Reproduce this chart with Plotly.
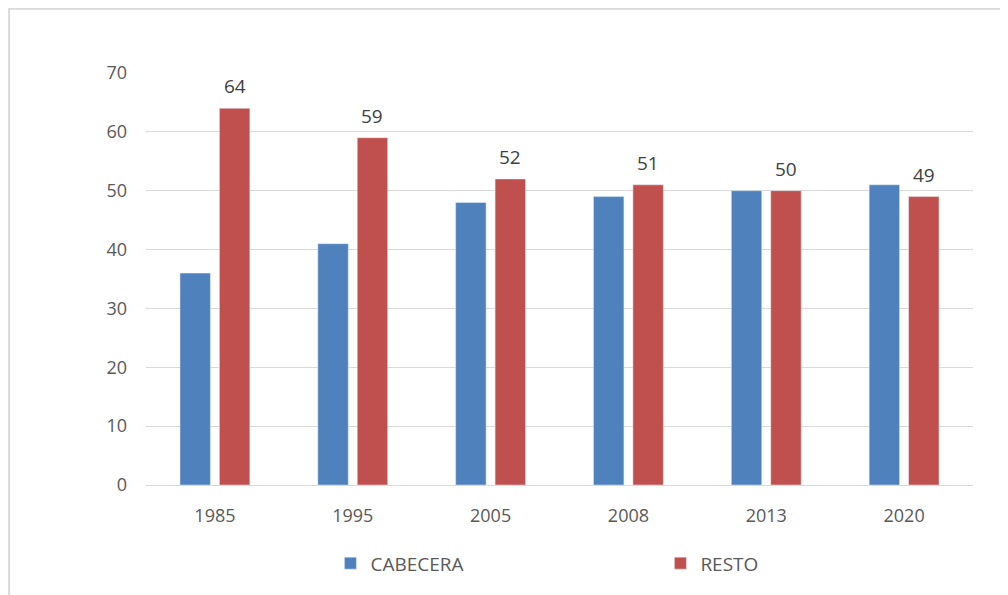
import plotly.graph_objects as go

years = ["1985", "1995", "2005", "2008", "2013", "2020"]
cabecera = [36, 41, 48, 49, 50, 51]
resto = [64, 59, 52, 51, 50, 49]
y_ticks = [0, 10, 20, 30, 40, 50, 60, 70]

BLUE = "#4f81bd"
RED = "#c0504d"
FONT = "Open Sans, Liberation Sans, sans-serif"
LEG_FONT = dict(family=FONT, size=19, color="#595959")

fig = go.Figure()
fig.add_trace(go.Bar(name="CABECERA", x=years, y=cabecera, marker_color=BLUE,
                     legend="legend"))
fig.add_trace(go.Bar(name="RESTO", x=years, y=resto, marker_color=RED,
                     legend="legend2"))

for i, v in enumerate(resto):
    fig.add_annotation(x=i + 0.143, y=v, xref="x", yref="y", text=str(v),
                       showarrow=False, yanchor="bottom", yshift=7,
                       font=dict(family=FONT, size=19, color="#404040"))

fig.add_shape(type="rect", xref="paper", yref="paper",
              x0=-0.1655, x1=1.08, y0=-0.35, y1=1.156,
              line=dict(color="#d9d9d9", width=2), fillcolor="rgba(0,0,0,0)",
              layer="below")

fig.update_layout(
    width=1008, height=595,
    margin=dict(l=138, r=43, t=65, b=118),
    paper_bgcolor="white", plot_bgcolor="white",
    barmode="group", bargap=0.428, bargroupgap=0.228,
    font=dict(family=FONT, size=18, color="#595959"),
    showlegend=True,
    legend=dict(orientation="h", x=0.223, xanchor="left", y=-0.19, yanchor="middle",
                font=LEG_FONT),
    legend2=dict(orientation="h", x=0.622, xanchor="left", y=-0.19, yanchor="middle",
                 font=LEG_FONT),
    xaxis=dict(showgrid=False, showline=True, linecolor="#d9d9d9", linewidth=1,
               ticks="", ticklabelstandoff=14, tickfont=dict(size=18)),
    yaxis=dict(range=[0, 70], tickvals=y_ticks, showgrid=True, gridcolor="#d9d9d9",
               gridwidth=1, zeroline=False, showline=False, ticks="",
               ticklabelstandoff=18, tickfont=dict(size=18)),
)

fig.write_html("out.html")
